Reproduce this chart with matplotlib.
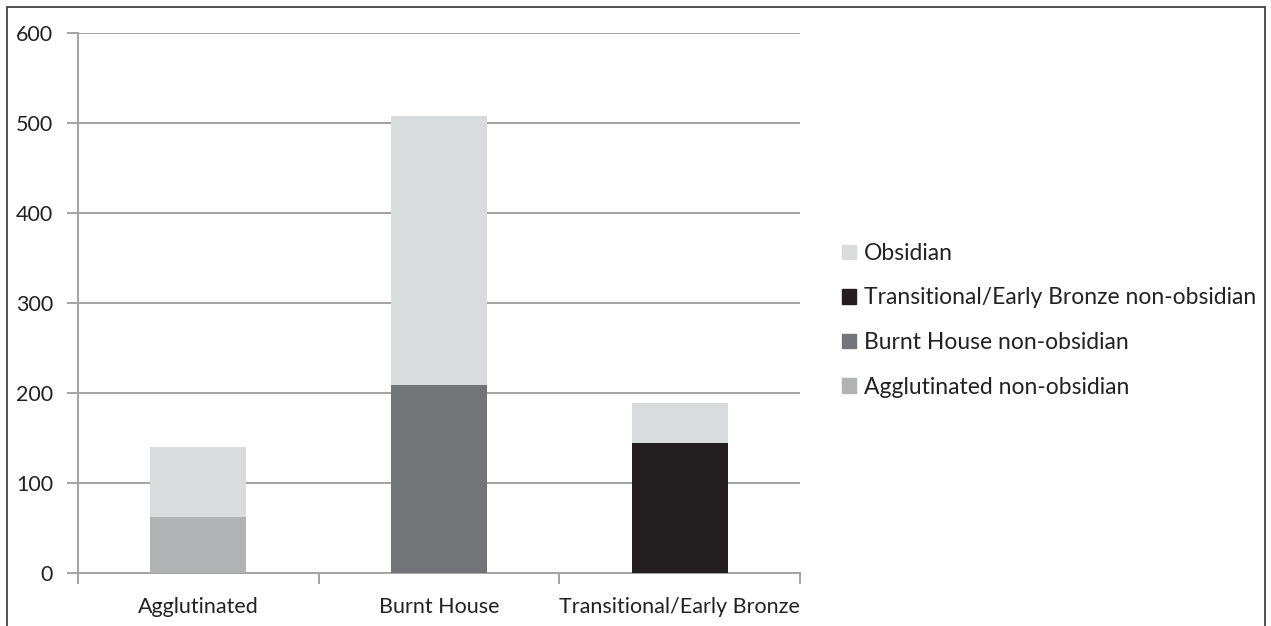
import matplotlib
matplotlib.use("Agg")
import matplotlib.pyplot as plt
from matplotlib.patches import Rectangle, Patch

# Lithic counts by phase
categories = ["Agglutinated", "Burnt House", "Transitional/Early Bronze"]
non_obsidian = [62, 209, 145]
obsidian = [78, 298, 44]
non_obs_labels = ["Agglutinated non-obsidian", "Burnt House non-obsidian",
                  "Transitional/Early Bronze non-obsidian"]
non_obs_colors = ["#b1b2b4", "#737477", "#231f20"]
obsidian_color = "#dadbdd"
yticks = [0, 100, 200, 300, 400, 500, 600]

plt.rcParams["font.family"] = ["Lato", "DejaVu Sans"]

fig = plt.figure(figsize=(12.71, 6.26), dpi=100)
ax = fig.add_axes([0.0614, 0.0842, 0.5680, 0.8636])

grid_color = "#a3a3a3"
text_color = "#222222"
fs = 15.5
x = list(range(len(categories)))
width = 0.40
for i in x:
    ax.bar(i, non_obsidian[i], width=width, color=non_obs_colors[i], zorder=3)
    ax.bar(i, obsidian[i], width=width, bottom=non_obsidian[i],
           color=obsidian_color, zorder=3)

ax.set_xlim(-0.5, 2.5)
ax.set_ylim(0, 600)
ax.set_yticks(yticks)
ax.set_yticklabels([str(t) for t in yticks], fontsize=fs, color=text_color)
ax.yaxis.grid(True, color=grid_color, linewidth=1.4, zorder=0)
ax.set_axisbelow(True)

ax.set_xticks([-0.5, 0.5, 1.5, 2.5])
ax.set_xticklabels([])
ax.set_xticks(x, minor=True)
ax.set_xticklabels(categories, minor=True, fontsize=fs, color=text_color)
ax.tick_params(axis="x", which="major", direction="out", length=8,
               width=1.4, color=grid_color)
ax.tick_params(axis="x", which="minor", length=0, pad=17)
ax.tick_params(axis="y", direction="out", length=8, width=1.4,
               color=grid_color, pad=10)

for side in ["top", "right"]:
    ax.spines[side].set_visible(False)
for side in ["left", "bottom"]:
    ax.spines[side].set_color(grid_color)
    ax.spines[side].set_linewidth(1.4)

handles = [Patch(color=obsidian_color, label="Obsidian")]
for i in reversed(x):
    handles.append(Patch(color=non_obs_colors[i], label=non_obs_labels[i]))
fig.legend(handles=handles, loc="upper left",
           bbox_to_anchor=(0.6465, 0.645), frameon=False, fontsize=16.5,
           handlelength=0.6, handleheight=0.6, handletextpad=0.35,
           labelspacing=1.03, labelcolor=text_color)

# Outer frame
fig.patches.append(Rectangle((7 / 1271, -0.05), (1265 - 7) / 1271, 1.05 - 7 / 626,
                             transform=fig.transFigure, fill=False,
                             edgecolor="#333333", linewidth=1.2))

fig.savefig("out.png", dpi=100, facecolor="white")
